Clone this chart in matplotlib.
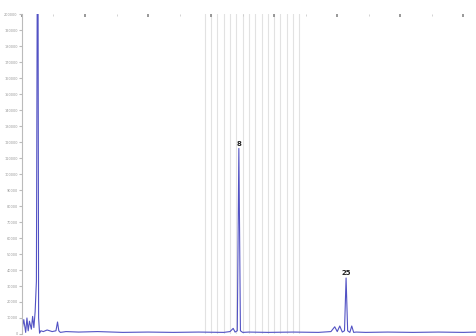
import matplotlib.pyplot as plt
import numpy as np

# trace points (minutes, signal x1000)
trace_t = [0.00, 0.03, 0.06, 0.08, 0.10, 0.12, 0.15, 0.17, 0.19, 0.21, 0.23, 0.245, 0.255, 0.265,
           0.28, 0.30, 0.34, 0.40, 0.48, 0.54, 0.565, 0.585, 0.61, 0.70, 0.90, 1.20, 1.60, 2.00,
           2.40, 2.80, 3.20, 3.30, 3.35, 3.38, 3.415, 3.44, 3.465, 3.50, 3.60, 3.90, 4.30, 4.70, 4.90,
           4.96, 5.00, 5.04, 5.08, 5.115, 5.14, 5.165, 5.20, 5.23, 5.26, 5.30, 5.45, 5.80, 6.20, 6.60, 7.00, 7.20]
trace_y = [0.2, 0.9, 0.1, 1.0, 0.2, 0.8, 0.3, 1.1, 0.4, 1.4, 3.3, 24.0, 24.0, 1.0,
           0.05, 0.2, 0.15, 0.25, 0.15, 0.2, 0.75, 0.2, 0.1, 0.15, 0.12, 0.15, 0.1, 0.12,
           0.1, 0.12, 0.1, 0.15, 0.35, 0.12, 0.2, 11.6, 0.2, 0.1, 0.12, 0.1, 0.12, 0.1, 0.15,
           0.45, 0.15, 0.5, 0.12, 0.2, 3.5, 0.2, 0.1, 0.5, 0.1, 0.12, 0.1, 0.12, 0.1, 0.12, 0.1, 0.12]

peak_t = [3.44, 5.14]
peak_y = [11.6, 3.5]
peak_labels = ['8', '25']

grid_t = [2.9, 3.0, 3.1, 3.2, 3.3, 3.4, 3.5, 3.6, 3.7, 3.8, 3.9, 4.0, 4.1, 4.2, 4.3, 4.4]

y_ticks = list(range(0, 21))
y_labels = ['%d000' % (v * 10) if v else '0' for v in y_ticks]

fig = plt.figure(figsize=(4.76, 3.36), dpi=100)
ax = fig.add_axes([0.046, 0.006, 0.954, 0.952])

for g in grid_t:
    ax.axvline(g, color='#e2e2e2', lw=0.8, zorder=0)

ax.plot(trace_t, trace_y, color='#5252c4', lw=0.8)

for t, y, s in zip(peak_t, peak_y, peak_labels):
    ax.text(t, y + 0.1, s, ha='center', va='bottom', fontsize=5, fontweight='bold', color='#222222')

ax.set_xlim(0, 7.2)
ax.set_ylim(0, 20)
ax.set_yticks(y_ticks)
ax.set_yticklabels(y_labels, fontsize=2.5, color='#999999')
ax.xaxis.tick_top()
ax.set_xticks(range(0, 8))
ax.set_xticks(np.arange(0.5, 7.2, 1.0), minor=True)
ax.set_xticklabels([])
ax.tick_params(axis='x', which='major', length=2, color='#888888', width=1.2, direction='in')
ax.tick_params(axis='x', which='minor', length=1.5, color='#cccccc', direction='in')
ax.tick_params(axis='y', length=2, color='#bbbbbb', pad=1)

for side in ['top', 'right', 'bottom']:
    ax.spines[side].set_visible(False)
ax.spines['left'].set_color('#bbbbbb')

fig.savefig('out.png', dpi=100)
